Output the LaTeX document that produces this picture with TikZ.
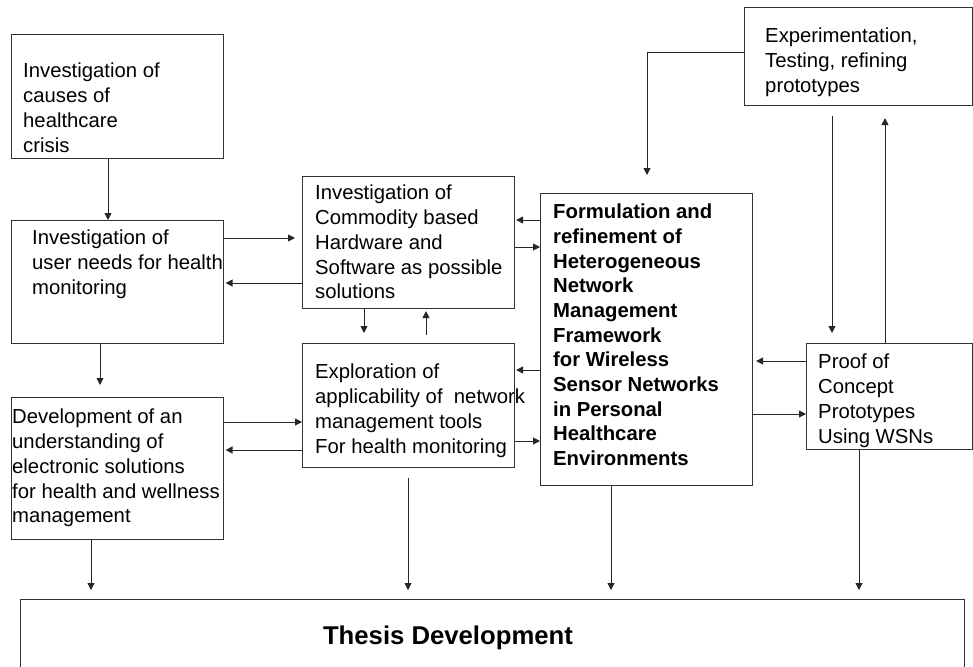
\documentclass[tikz,border=0pt]{standalone}
\usepackage{fontspec}
\setmainfont{Liberation Sans}
\usetikzlibrary{arrows.meta}
\tikzset{
  box/.style={draw=black!80, line width=1.1pt, inner sep=0pt, anchor=north west},
  txt/.style={font=\fontsize{20.3}{24.8}\selectfont, align=left, inner sep=0pt, anchor=north west},
  arr/.style={draw=black!85, line width=0.9pt, -{Triangle[length=7pt,width=7pt]}}
}
\begin{document}
\begin{tikzpicture}[x=1pt,y=-1pt]
\useasboundingbox (0,0) rectangle (973,666);
\clip (0,0) rectangle (973,666);
% boxes
\node[box, minimum width=212pt, minimum height=124pt] (b1) at (11,34) {};
\node[box, minimum width=212pt, minimum height=123pt] (b2) at (11,220) {};
\node[box, minimum width=212pt, minimum height=142pt] (b3) at (11,397) {};
\node[box, minimum width=212pt, minimum height=132pt] (b4) at (302,176) {};
\node[box, minimum width=212pt, minimum height=124pt] (b5) at (302,343) {};
\node[box, minimum width=212pt, minimum height=292pt] (b6) at (540,193) {};
\node[box, minimum width=228pt, minimum height=98pt] (b7) at (744,7) {};
\node[box, minimum width=166pt, minimum height=106pt] (b8) at (806,343) {};
\node[box, minimum width=944pt, minimum height=100pt] (b9) at (20,599) {};
% texts
\node[txt] (t1) at (23,60.2) {\strut Investigation of\\causes of\\healthcare\\crisis};
\node[txt] (t2) at (32,227.2) {\strut Investigation of\\user needs for health\\monitoring};
\node[txt] (t3) at (12,406.2) {\strut Development of an\\understanding of\\electronic solutions\\for health and wellness\\management};
\node[txt] (t4) at (315,182.2) {\strut Investigation of\\Commodity based\\Hardware and\\Software as possible\\solutions};
\node[txt] (t5) at (315,361.2) {\strut Exploration of\\applicability of~ network\\management tools\\For health monitoring};
\node[txt, font=\fontsize{20.3}{24.7}\selectfont\bfseries] (t6) at (553,201.2) {\strut Formulation and\\refinement of\\Heterogeneous\\Network\\Management\\Framework\\for Wireless\\Sensor Networks\\in Personal\\Healthcare\\Environments};
\node[txt] (t7) at (765,25.2) {\strut Experimentation,\\Testing, refining\\prototypes};
\node[txt] (t8) at (818,351.2) {\strut Proof of\\Concept\\Prototypes\\Using WSNs};
\node[inner sep=0pt, font=\fontsize{25.7}{30}\selectfont\bfseries] (t9) at (448,638) {Thesis Development};
% connectors
\draw[arr] (b1.south -| 108,0) -- (b2.north -| 108,0);
\draw[arr, shorten >=7pt] (b2.east |- 0,238) -- (b4.west |- 0,238);
\draw[arr, shorten >=1.5pt] (b4.west |- 0,283) -- (b2.east |- 0,283);
\draw[arr, shorten >=10pt] (b4.south -| 364,0) -- (b5.north -| 364,0);
\draw[arr, shorten <=8pt, shorten >=2pt] (b5.north -| 426,0) -- (b4.south -| 426,0);
\draw[arr] (b3.east |- 0,422) -- (b5.west |- 0,422);
\draw[arr, shorten >=1.5pt] (b5.west |- 0,450) -- (b3.east |- 0,450);
\draw[arr, shorten >=1pt] (b6.west |- 0,220) -- (b4.east |- 0,220);
\draw[arr] (b4.east |- 0,247) -- (b6.west |- 0,247);
\draw[arr, shorten >=1pt] (b6.west |- 0,370) -- (b5.east |- 0,370);
\draw[arr] (b5.east |- 0,441) -- (b6.west |- 0,441);
\draw[arr, shorten >=18pt] (b7.west |- 0,52) -| (b6.north -| 647,0);
\draw[arr, shorten <=10pt, shorten >=10pt] (b7.south -| 832,0) -- (b8.north -| 832,0);
\draw[arr, shorten >=12pt] (b8.north -| 885,0) -- (b7.south -| 885,0);
\draw[arr, shorten >=3pt] (b8.west |- 0,361) -- (b6.east |- 0,361);
\draw[arr] (b6.east |- 0,414) -- (b8.west |- 0,414);
\draw[arr, shorten >=12pt] (b2.south -| 100,0) -- (b3.north -| 100,0);
\draw[arr, shorten >=9pt] (b3.south -| 91,0) -- (b9.north -| 91,0);
\draw[arr, shorten <=10pt, shorten >=9pt] (b5.south -| 408,0) -- (b9.north -| 408,0);
\draw[arr, shorten >=9pt] (b6.south -| 611,0) -- (b9.north -| 611,0);
\draw[arr, shorten >=9pt] (b8.south -| 859,0) -- (b9.north -| 859,0);
\end{tikzpicture}
\end{document}
